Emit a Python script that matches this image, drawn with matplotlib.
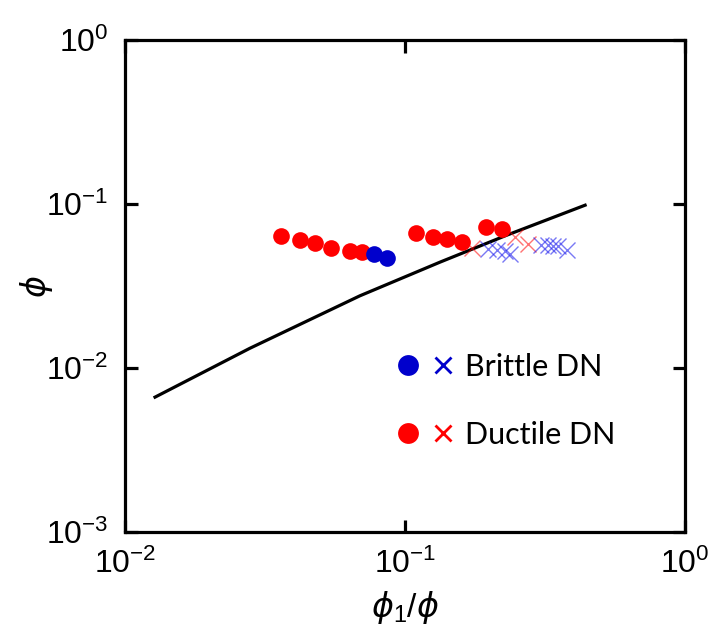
import matplotlib
matplotlib.use("Agg")
import matplotlib.pyplot as plt
from matplotlib.lines import Line2D
from matplotlib.legend_handler import HandlerTuple
from matplotlib.ticker import FixedLocator, FixedFormatter, NullLocator

plt.rcParams['font.family'] = ['Liberation Sans', 'DejaVu Sans']
plt.rcParams['mathtext.fontset'] = 'custom'
plt.rcParams['mathtext.rm'] = 'Liberation Sans'
plt.rcParams['mathtext.it'] = 'DejaVu Sans:italic'

# model curve
curve_x = [0.0128, 0.0279, 0.069, 0.1334, 0.231, 0.44]
curve_y = [0.00665, 0.0132, 0.0276, 0.0443, 0.0647, 0.0986]

# ductile DN, circles
duct_o_x = [0.0361, 0.0422, 0.0477, 0.0543, 0.0637, 0.0700,
            0.1094, 0.1262, 0.1409, 0.1594, 0.194, 0.2226]
duct_o_y = [0.0638, 0.0603, 0.0576, 0.0541, 0.0519, 0.0512,
            0.0668, 0.0632, 0.0612, 0.0589, 0.0727, 0.0701]

# brittle DN, circles
brit_o_x = [0.0774, 0.0861]
brit_o_y = [0.0496, 0.0467]

# ductile DN, crosses
duct_x_x = [0.1734, 0.247, 0.275]
duct_x_y = [0.0539, 0.0629, 0.0570]

# brittle DN, crosses
brit_x_x = [0.1977, 0.2133, 0.2275, 0.237, 0.306, 0.324, 0.338, 0.352, 0.379]
brit_x_y = [0.0532, 0.0524, 0.0517, 0.0496, 0.0562, 0.0562, 0.0555, 0.0555, 0.0524]

xticks = [0.01, 0.1, 1]
xtick_labels = [r'$\mathregular{10^{-2}}$', r'$\mathregular{10^{-1}}$', r'$\mathregular{10^{0}}$']
yticks = [0.001, 0.01, 0.1, 1]
ytick_labels = [r'$\mathregular{10^{-3}}$', r'$\mathregular{10^{-2}}$',
                r'$\mathregular{10^{-1}}$', r'$\mathregular{10^{0}}$']

RED = '#ff0000'
BLUE = '#0000cc'

fig = plt.figure(figsize=(7.16, 6.37), dpi=100)
ax = fig.add_axes([0.1746, 0.1648, 0.782, 0.772])

ax.plot(curve_x, curve_y, color='black', lw=2.3, zorder=2)
ax.plot(duct_x_x, duct_x_y, ls='', marker='x', ms=11, mew=1.0, color=RED, alpha=0.55, zorder=3)
ax.plot(brit_x_x, brit_x_y, ls='', marker='x', ms=11, mew=1.0, color='#2020ee', alpha=0.6, zorder=3)
ax.plot(duct_o_x, duct_o_y, ls='', marker='o', ms=12, color=RED, mec='none', zorder=4)
ax.plot(brit_o_x, brit_o_y, ls='', marker='o', ms=12, color=BLUE, mec='none', zorder=4)

ax.set_xscale('log')
ax.set_yscale('log')
ax.set_xlim(0.01, 1)
ax.set_ylim(0.001, 1)

ax.xaxis.set_major_locator(FixedLocator(xticks))
ax.xaxis.set_major_formatter(FixedFormatter(xtick_labels))
ax.yaxis.set_major_locator(FixedLocator(yticks))
ax.yaxis.set_major_formatter(FixedFormatter(ytick_labels))
ax.xaxis.set_minor_locator(NullLocator())
ax.yaxis.set_minor_locator(NullLocator())

for s in ax.spines.values():
    s.set_linewidth(2.3)
ax.tick_params(which='major', direction='in', length=9, width=2.3,
               top=True, right=True, labelsize=23, pad=12)

ax.set_xlabel(r'$\phi_1/\phi$', fontsize=24)
ax.set_ylabel(r'$\phi$', fontsize=24)
ax.xaxis.set_label_coords(0.5, -0.115)
ax.yaxis.set_label_coords(-0.125, 0.5)

h_brit = (Line2D([], [], ls='', marker='o', ms=15, color=BLUE, mec='none'),
          Line2D([], [], ls='', marker='x', ms=12, mew=2, color=BLUE))
h_duct = (Line2D([], [], ls='', marker='o', ms=15, color=RED, mec='none'),
          Line2D([], [], ls='', marker='x', ms=12, mew=2, color=RED))
ax.legend([h_brit, h_duct], ['Brittle DN', 'Ductile DN'],
          handler_map={tuple: HandlerTuple(ndivide=None, pad=0.3)},
          loc='upper left', bbox_to_anchor=(0.455, 0.395), frameon=False,
          prop={'family': 'Lato', 'size': 22}, handlelength=2.0,
          handletextpad=0.3, labelspacing=1.3, borderpad=0)

fig.savefig('out.png', dpi=100)
